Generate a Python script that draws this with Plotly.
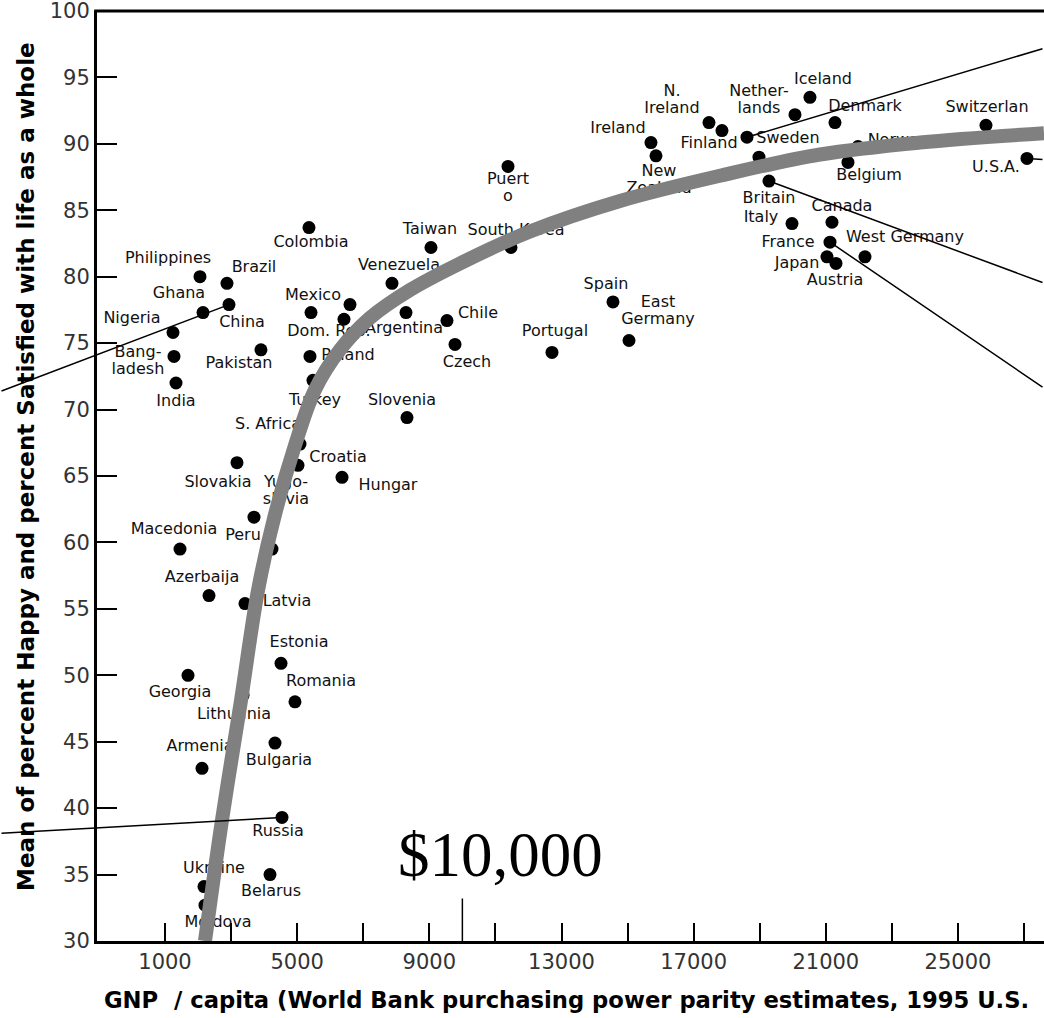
import plotly.graph_objects as go

# ---- data -----------------------------------------------------------------
# label text as printed beside each society ("\n" = line break, "" = no label)
countries = [
    "Nigeria", "Philippines", "Ghana", "Brazil", "China", "Bang-\nladesh", "India",
    "Pakistan", "Colombia", "Mexico", "", "Dom. Rep.", "Venezuela", "Argentina",
    "Taiwan", "South Korea", "Chile", "Czech", "Poland", "Turkey", "Slovenia",
    "Puert\no", "Portugal", "Spain", "East\nGermany", "Ireland", "New\nZealand",
    "N.\nIreland", "Finland", "Sweden", "Nether-\nlands", "Iceland", "Denmark", "",
    "Britain", "Norway", "Belgium", "Switzerlan", "U.S.A.", "Italy", "Canada",
    "France", "Japan", "Austria", "West Germany", "S. Africa", "Croatia", "Hungar",
    "Slovakia", "Yugo-\nslavia", "Peru", "Macedonia", "Azerbaija", "Latvia",
    "Estonia", "Romania", "Georgia", "Lithuania", "Armenia", "Bulgaria", "Russia",
    "Belarus", "Ukraine", "Moldova",
]

# GNP per capita, PPP, 1995 US$
gnp = [
    1242, 2059, 2150, 2876, 2937, 1272, 1333,
    3905, 5358, 5419, 6599, 6417, 7870, 8294,
    9050, 11471, 9534, 9777, 5388, 5479, 8324,
    11381, 12712, 14558, 15043, 15708, 15860,
    17464, 17857, 18614, 20066, 20520, 21277, 18977,
    19279, 21973, 21670, 25847, 27088, 19976, 21186,
    21126, 21035, 21307, 22185, 5086, 5025, 6357,
    3179, 3693, 4238, 1454, 2332, 3421,
    4511, 4934, 1696, 3361, 2120, 4329, 4541,
    4178, 2180, 2211,
]

# mean of % happy and % satisfied with life as a whole
wellbeing = [
    75.8, 80.0, 77.3, 79.5, 77.9, 74.0, 72.0,
    74.5, 83.7, 77.3, 77.9, 76.8, 79.5, 77.3,
    82.2, 82.2, 76.7, 74.9, 74.0, 72.2, 69.4,
    88.3, 74.3, 78.1, 75.2, 90.1, 89.1,
    91.6, 91.0, 90.5, 92.2, 93.5, 91.6, 89.0,
    87.2, 89.8, 88.6, 91.4, 88.9, 84.0, 84.1,
    82.6, 81.5, 81.0, 81.5, 67.4, 65.8, 64.9,
    66.0, 61.9, 59.5, 59.5, 56.0, 55.4,
    50.9, 48.0, 50.0, 48.5, 43.0, 44.9, 39.3,
    35.0, 34.1, 32.7,
]

# hand-drawn trend curve through the cloud
curve_gnp = [2211, 2725, 3300, 3815, 4329, 4934, 5540, 6296, 7204, 8415,
             9928, 12046, 14770, 17797, 20823, 23849, 27602]
curve_wellbeing = [30.0, 39.1, 48.1, 56.4, 62.1, 67.3, 71.5, 74.5, 76.9, 79.0,
                   81.0, 83.4, 85.7, 87.6, 89.2, 90.1, 90.8]

# axis ticks
xtick_vals = list(range(1000, 28000, 2000))
xtick_text = [str(v) if (v - 1000) % 4000 == 0 else "" for v in xtick_vals]
ytick_vals = list(range(30, 101, 5))

threshold = 10000  # income level marked on the x axis

# societies with a pointer line running off the chart: (label, dx px, dy px)
pointers = [("China", -240, 87), ("Russia", -295, 16), ("Sweden", 310, -89),
            ("Britain", 290, 102), ("France", 230, 146), ("U.S.A.", 30, 1)]

# ---- layout constants -----------------------------------------------------
W, H = 1044, 1018
MARGIN = dict(l=97, r=0, t=11, b=77)
X_RANGE = [-1058, 27603]
Y_RANGE = [30, 100]

# label offsets from each point, in pixels (dx right, dy down)
LABEL_OFFSETS = [
    (-41, -14), (-32, -18), (-24, -19), (27, -15), (13, 18), (-36, 5), (0, 19),
    (-22, 14), (2, 15), (2, -17), (0, 0), (-15, 13), (7, -17), (-2, 16),
    (-1, -17), (5, -16), (31, -7), (12, 19), (38, 0), (2, 21), (-5, -17),
    (0, 22), (3, -20), (-7, -17), (29, -29), (-33, -14), (3, 25),
    (-37, -22), (-13, 13), (41, 2), (-36, -14), (13, -17), (30, -16), (0, 0),
    (0, 18), (40, -6), (21, 14), (1, -17), (-31, 10), (-31, -6), (10, -15),
    (-42, 1), (-30, 7), (-1, 18), (40, -19), (-32, -19), (40, -7), (46, 9),
    (-19, 20), (32, -26), (-29, -13), (-6, -19), (-7, -18), (42, -2),
    (18, -20), (26, -20), (-8, 18), (-9, 20), (-2, -21), (4, 18), (-4, 15),
    (1, 17), (10, -18), (13, 18),
]
LINE_H = 17

px_per_x = (W - MARGIN["l"] - MARGIN["r"]) / (X_RANGE[1] - X_RANGE[0])
px_per_y = (H - MARGIN["t"] - MARGIN["b"]) / (Y_RANGE[1] - Y_RANGE[0])

lab_x, lab_y, lab_t = [], [], []
for name, gx, wy, (dx, dy) in zip(countries, gnp, wellbeing, LABEL_OFFSETS):
    if not name:
        continue
    lines = name.split("\n")
    n = len(lines)
    for i, line in enumerate(lines):
        off = dy + (i - (n - 1) / 2) * LINE_H
        lab_x.append(gx + dx / px_per_x)
        lab_y.append(wy - off / px_per_y)
        lab_t.append(line)

# ---- figure ---------------------------------------------------------------
fig = go.Figure()

fig.add_trace(go.Scatter(
    x=gnp, y=wellbeing, mode="markers",
    marker=dict(size=13, color="black", line=dict(width=0)),
    hoverinfo="skip", cliponaxis=False,
))

fig.add_trace(go.Scatter(
    x=lab_x, y=lab_y, text=lab_t, mode="text", textposition="middle center",
    textfont=dict(family="DejaVu Sans", size=16, color="#111"),
    hoverinfo="skip", cliponaxis=False,
))

fig.add_trace(go.Scatter(
    x=curve_gnp, y=curve_wellbeing, mode="lines",
    line=dict(color="#808080", width=14, shape="spline", smoothing=1.0),
    hoverinfo="skip",
))

annotations = []
lookup = {c: (g, w) for c, g, w in zip(countries, gnp, wellbeing)}
for name, ax, ay in pointers:
    g, w = lookup[name]
    annotations.append(dict(
        x=g, y=w, xref="x", yref="y", text="", showarrow=True,
        arrowhead=0, arrowwidth=1.5, arrowcolor="black", standoff=0,
        ax=ax, ay=ay,
    ))

annotations.append(dict(
    x=threshold, y=Y_RANGE[0], xref="x", yref="y",
    text="$" + f"{threshold:,}", showarrow=False,
    font=dict(family="Liberation Serif", size=63, color="black"),
    xanchor="center", yanchor="middle", xshift=38, yshift=86,
))

annotations.append(dict(
    x=0.4963, y=0, xref="paper", yref="paper", yanchor="middle", xanchor="center",
    yshift=-59, showarrow=False,
    text="GNP  / capita (World Bank purchasing power parity estimates, 1995 U.S.",
    font=dict(family="DejaVu Sans", size=22.7, color="black", weight="bold"),
))

annotations.append(dict(
    x=0, y=0.5097, xref="paper", yref="paper", xanchor="center", yanchor="middle",
    xshift=-71, textangle=-90, showarrow=False,
    text="Mean of percent Happy and percent Satisfied with life as a whole",
    font=dict(family="DejaVu Sans", size=23, color="black", weight="bold"),
))

shapes = [
    # top frame line
    dict(type="line", xref="paper", yref="paper", x0=-0.003, x1=1, y0=1, y1=1,
         line=dict(color="black", width=3)),
    # long tick marking the income threshold
    dict(type="line", xref="x", yref="y", x0=threshold, x1=threshold,
         y0=Y_RANGE[0], y1=33.2, line=dict(color="black", width=1.5)),
]

fig.update_layout(
    width=W, height=H, margin=MARGIN,
    paper_bgcolor="white", plot_bgcolor="white",
    showlegend=False, annotations=annotations, shapes=shapes,
)

fig.update_xaxes(
    range=X_RANGE, tickvals=xtick_vals, ticktext=xtick_text,
    ticks="inside", ticklen=18, tickwidth=1.5, tickcolor="black",
    showline=True, linewidth=3, linecolor="black",
    showgrid=False, zeroline=False, ticklabeloverflow="allow",
    tickfont=dict(family="DejaVu Sans", size=21, color="#333"),
)
fig.update_yaxes(
    range=Y_RANGE, tickvals=ytick_vals,
    ticks="inside", ticklen=20, tickwidth=1.5, tickcolor="black",
    showline=True, linewidth=3, linecolor="black",
    showgrid=False, zeroline=False, ticklabeloverflow="allow",
    tickfont=dict(family="DejaVu Sans", size=21, color="#333"),
)

fig.write_html("out.html")
